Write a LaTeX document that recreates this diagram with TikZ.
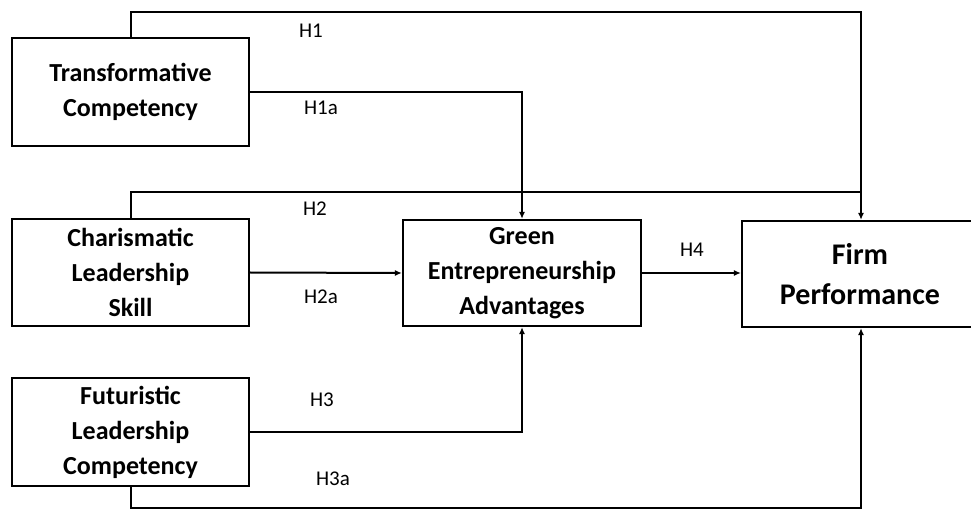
\documentclass[tikz,border=0pt]{standalone}
\usepackage{fontspec}
\setmainfont{Carlito}
\usetikzlibrary{arrows.meta}
\begin{document}
\begin{tikzpicture}[x=1pt,y=-1pt,
 box/.style={draw, line width=2.2pt, inner sep=0pt, align=center, font=\bfseries\fontsize{26}{35}\selectfont},
 conn/.style={line width=2pt},
 arr/.style={conn,-{Latex[length=7pt,width=6pt]}},
 lab/.style={font=\fontsize{21}{22}\selectfont}]
\useasboundingbox (0,0) rectangle (971,510);
\clip (0,0) rectangle (971,510);
\node[box, minimum width=237pt, minimum height=108pt] (tc) at (130.5,92) {Transformative\\Competency};
\node[box, minimum width=237pt, minimum height=107pt] (cls) at (130.5,272.5) {Charismatic\\Leadership\\Skill};
\node[box, minimum width=237pt, minimum height=108pt] (flc) at (130.5,432) {Futuristic\\Leadership\\Competency};
\node[box, minimum width=238pt, minimum height=106pt] (gea) at (522,273) {Green\\Entrepreneurship\\Advantages};
\node[box, minimum width=260pt, minimum height=106pt, font=\bfseries\fontsize{30}{40}\selectfont] (fp) at (872,274) {\hspace*{-24pt}Firm\\\hspace*{-24pt}Performance};
\coordinate (vx) at (861,0);
\coordinate (top) at (0,12);
\coordinate (h2y) at (0,192);
\coordinate (bot) at (0,508);
% connectors
\draw[arr] (tc.north) |- (top -| vx) -- (vx |- fp.north);
\draw[arr] (tc.east) -| (gea.north);
\draw[conn] (cls.north) |- (h2y -| vx);
\draw[arr] (cls.east) -- (gea.west);
\draw[arr] (gea.east) -- (fp.west |- gea.east);
\draw[arr] (flc.east) -| (gea.south);
\draw[arr] (flc.south) |- (bot -| vx) -- (vx |- fp.south);
% labels
\node[lab] (l1) at (311,31) {H1};
\node[lab] (l1a) at (321,108) {H1a};
\node[lab] (l2) at (315,209) {H2};
\node[lab] (l2a) at (321,297) {H2a};
\node[lab] (l3) at (322,400) {H3};
\node[lab] (l3a) at (333,479) {H3a};
\node[lab] (l4) at (692,250) {H4};
\end{tikzpicture}
\end{document}
